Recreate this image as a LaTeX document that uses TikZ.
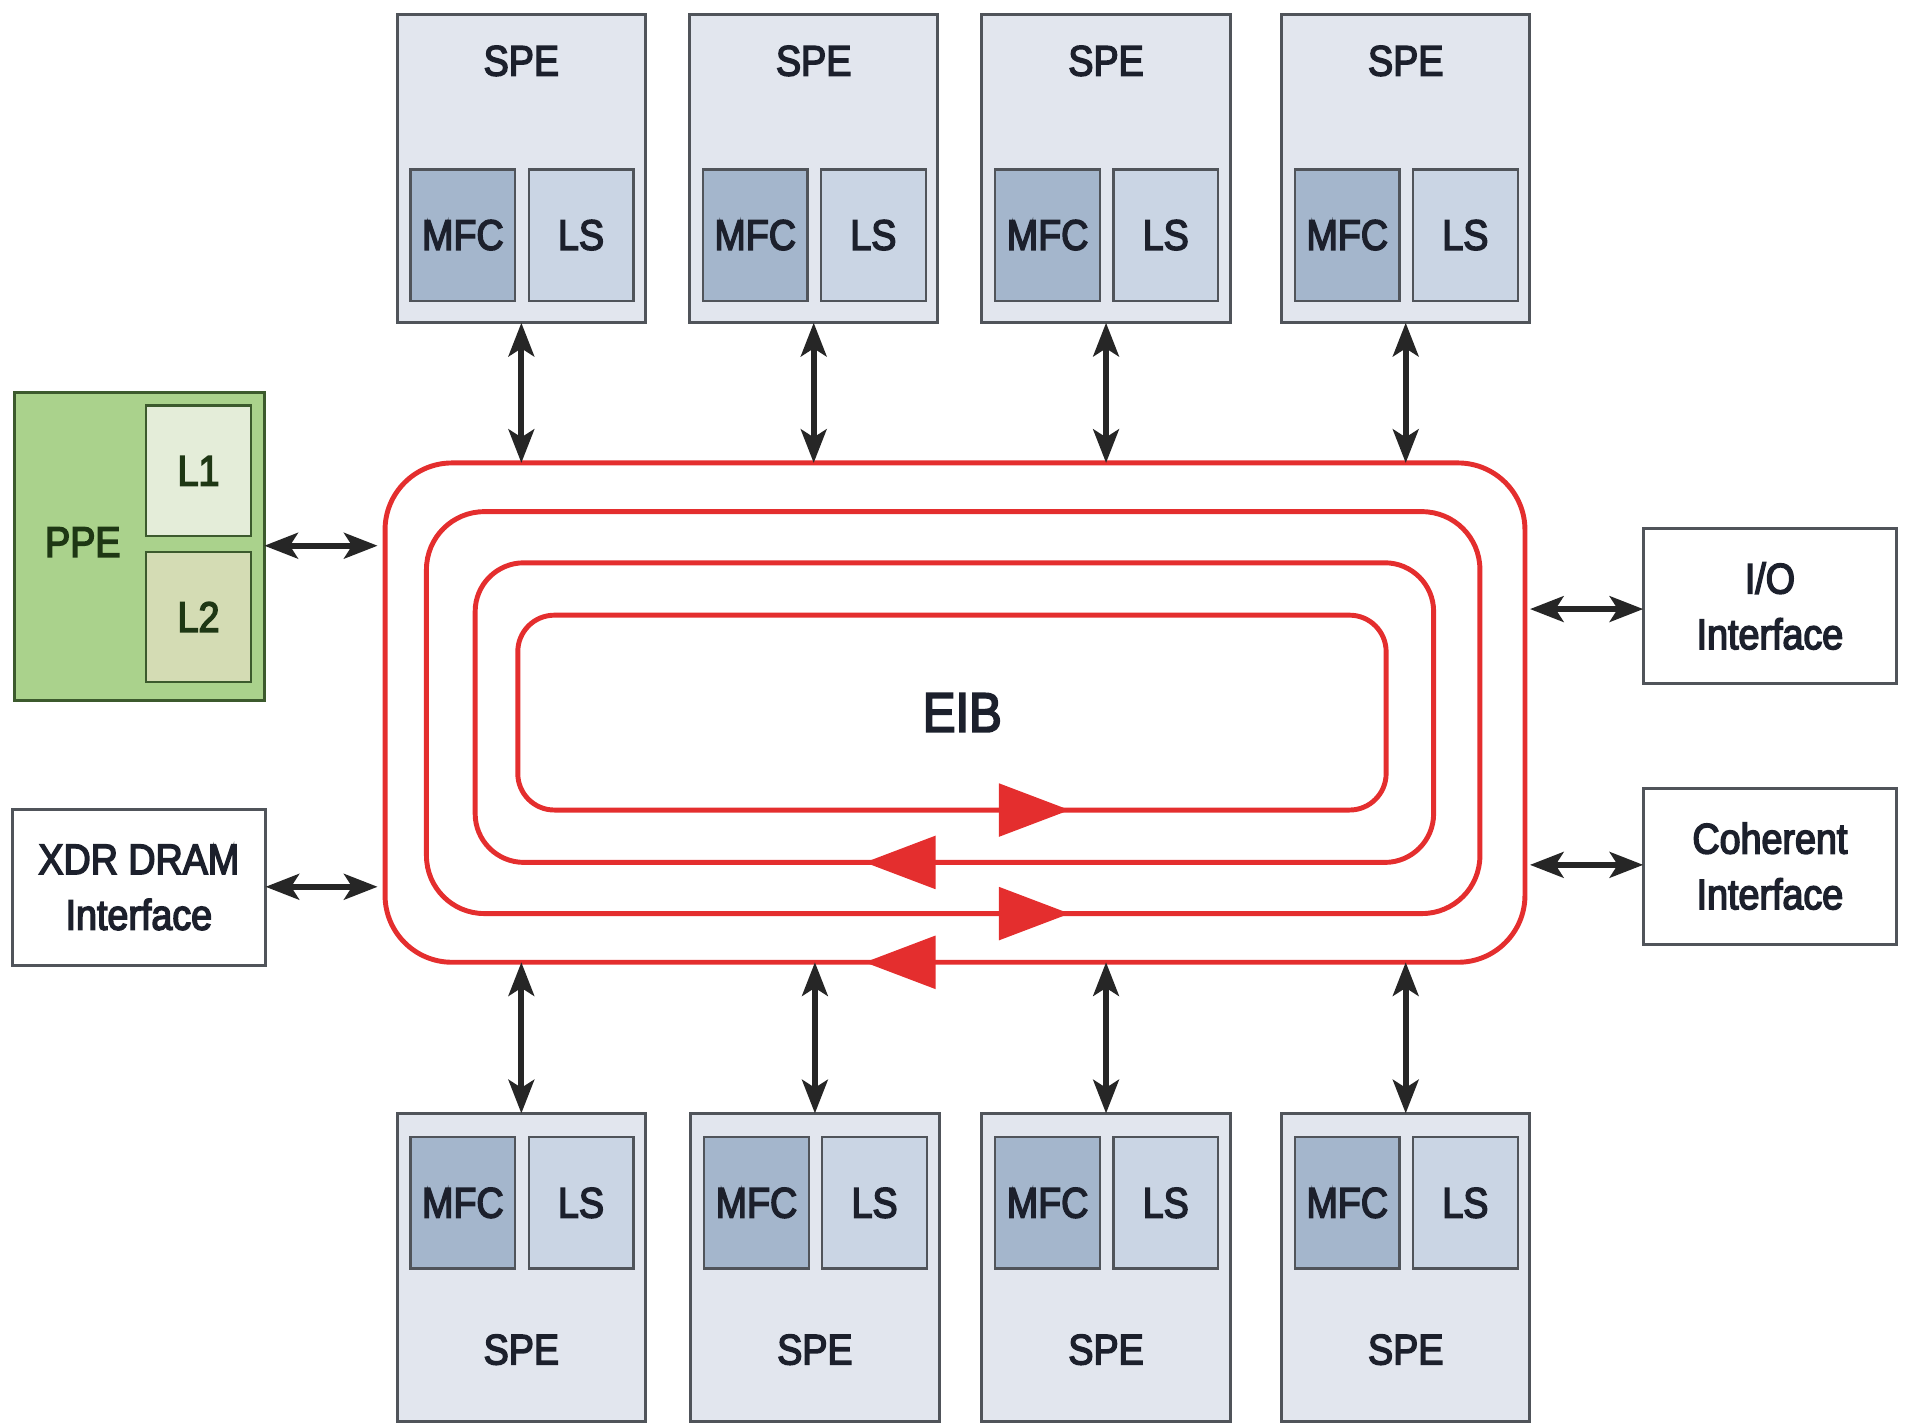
\documentclass[tikz,border=0pt]{standalone}
\usepackage{fontspec}
\setmainfont{Liberation Sans}[FakeStretch=0.88,FakeBold=3.5]
\usetikzlibrary{arrows.meta}
\definecolor{spefill}{RGB}{226,230,238}
\definecolor{mfcfill}{RGB}{164,182,204}
\definecolor{lsfill}{RGB}{202,213,228}
\definecolor{boxline}{RGB}{80,84,90}
\definecolor{txt}{RGB}{28,32,44}
\definecolor{ppefill}{RGB}{170,210,140}
\definecolor{ppeline}{RGB}{60,90,45}
\definecolor{lonefill}{RGB}{228,237,217}
\definecolor{ltwofill}{RGB}{212,220,180}
\definecolor{ppetxt}{RGB}{30,55,20}
\definecolor{eibred}{RGB}{228,46,46}
\tikzset{
  spebox/.style={draw=boxline, fill=spefill, line width=1.4pt, minimum width=4.08cm, minimum height=5.06cm, inner sep=0pt, outer sep=0pt},
  subbox/.style={draw=boxline, line width=1.1pt, minimum width=1.72cm, minimum height=2.16cm, inner sep=0pt, outer sep=0pt, text=txt, font=\fontsize{20}{24}\selectfont},
  mfcbox/.style={subbox, fill=mfcfill},
  lsbox/.style={subbox, fill=lsfill},
  lbl/.style={text=txt, font=\fontsize{20}{24}\selectfont, inner sep=0pt},
  ifbox/.style={draw=boxline, fill=white, line width=1.4pt, minimum width=4.16cm, minimum height=2.56cm, inner sep=0pt, outer sep=0pt, text=txt, align=center, font=\fontsize{20}{26}\selectfont},
  ring/.style={draw=eibred, line width=2.3pt, inner sep=0pt, outer sep=0pt},
  biarrow/.style={line width=2.8pt, draw=black!85, {Stealth[length=0.55cm,width=0.42cm,inset=0.13cm]}-{Stealth[length=0.55cm,width=0.42cm,inset=0.13cm]}},
  redtip/.style={fill=eibred}
}
\begin{document}
\begin{tikzpicture}[x=0.02cm, y=-0.02cm]
\useasboundingbox (0,0) rectangle (1568,1170);
% EIB rings
\node[ring, minimum width=18.72cm, minimum height=8.2cm, rounded corners=1.1cm] (eib) at (784,585) {};
\node[ring, minimum width=17.30cm, minimum height=6.6cm, rounded corners=0.95cm] (ringb) at (782.5,585) {};
\node[ring, minimum width=15.74cm, minimum height=4.92cm, rounded corners=0.8cm] (ringc) at (783.5,585) {};
\node[ring, minimum width=14.26cm, minimum height=3.2cm, rounded corners=0.6cm] (ringd) at (781.5,585) {};
\node[lbl, font=\fontsize{26}{30}\selectfont] (eiblabel) at (790,585) {EIB};
% red direction arrowheads
\fill[redtip] (878,665) -- (820,643) -- (820,687) -- cycle;
\fill[redtip] (710,708) -- (768,686) -- (768,730) -- cycle;
\fill[redtip] (878,750) -- (820,728) -- (820,772) -- cycle;
\fill[redtip] (710,790) -- (768,768) -- (768,812) -- cycle;
% top SPEs
\foreach \i/\x in {1/428,2/668,3/908,4/1154}{
  \node[spebox] (spet\i) at (\x,138.5) {};
  \node[mfcbox] (mfct\i) at (\x-48,193) {MFC};
  \node[lsbox] (lst\i) at (\x+49,193) {LS};
  \node[lbl] (spetl\i) at (\x,50) {SPE};
  \draw[biarrow] (spet\i.south) -- (spet\i.south |- eib.north);
}
% bottom SPEs
\foreach \i/\x in {1/428,2/669,3/908,4/1154}{
  \node[spebox] (speb\i) at (\x,1040.5) {};
  \node[mfcbox] (mfcb\i) at (\x-48,987.5) {MFC};
  \node[lsbox] (lsb\i) at (\x+49,987.5) {LS};
  \node[lbl] (spebl\i) at (\x,1108) {SPE};
  \draw[biarrow] (speb\i.north) -- (speb\i.north |- eib.south);
}
% PPE
\node[draw=ppeline, fill=ppefill, line width=1.4pt, minimum width=4.1cm, minimum height=5.06cm, inner sep=0pt, outer sep=0pt] (ppe) at (114.5,448.5) {};
\node[draw=ppeline, fill=lonefill, line width=1.2pt, minimum width=1.72cm, minimum height=2.14cm, inner sep=0pt, outer sep=0pt, text=ppetxt, font=\fontsize{20}{24}\selectfont] (lone) at (163,386.5) {L1};
\node[draw=ppeline, fill=ltwofill, line width=1.2pt, minimum width=1.72cm, minimum height=2.14cm, inner sep=0pt, outer sep=0pt, text=ppetxt, font=\fontsize{20}{24}\selectfont] (ltwo) at (163,506.5) {L2};
\node[lbl, text=ppetxt] (ppelabel) at (68,445) {PPE};
% interfaces
\node[ifbox] (xdr) at (114,728.5) {XDR DRAM\\Interface};
\node[ifbox] (io) at (1453,497.5) {I/O\\Interface};
\node[ifbox] (coh) at (1453,711) {Coherent\\Interface};
% horizontal connectors
\coordinate (ppein) at (310,448);
\coordinate (xdrin) at (310,728);
\coordinate (ioout) at (1256,500);
\coordinate (cohout) at (1256,710);
\draw[biarrow] (ppe.east |- ppein) -- (ppein);
\draw[biarrow] (xdr.east |- xdrin) -- (xdrin);
\draw[biarrow] (ioout) -- (io.west |- ioout);
\draw[biarrow] (cohout) -- (coh.west |- cohout);
\end{tikzpicture}
\end{document}
